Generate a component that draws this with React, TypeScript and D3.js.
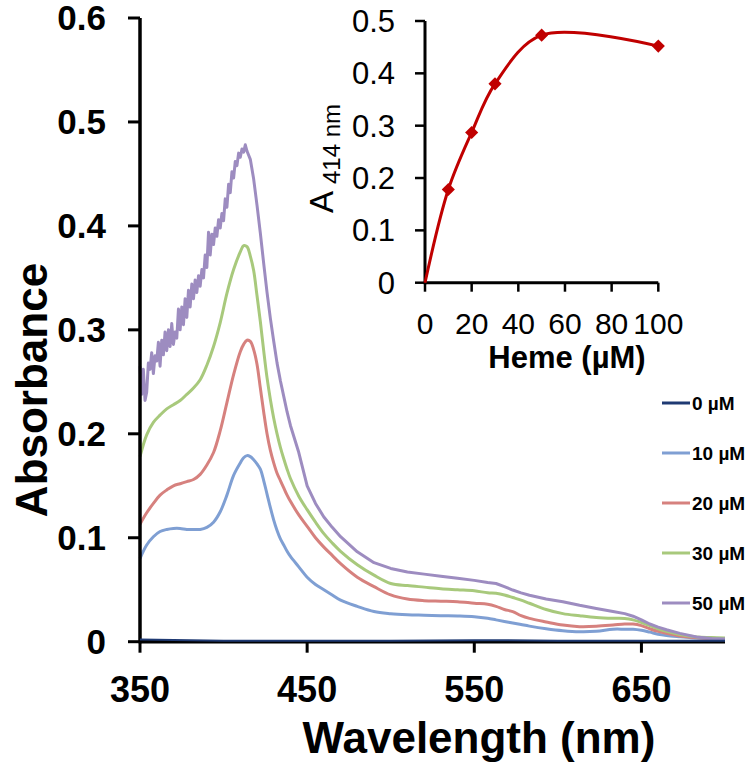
import React from "react";
import * as d3 from "d3";

// ---------- data ----------
const seriesLabels = ["0 µM", "10 µM", "20 µM", "30 µM", "50 µM"];
const seriesColors = ["#1f3a73", "#7f9fd3", "#d6817e", "#a8c97c", "#9d8cc0"];

const wl0 = [350, 400, 450, 500, 550, 600, 650, 700];
const abs0 = [0.002, 0.001, 0.001, 0.001, 0.0015, 0.001, 0.001, 0.001];

const wlGrid = [350, 354, 358, 362, 366, 370, 374, 378, 382, 386, 390, 394, 398, 402, 406, 410, 412, 414, 416, 418, 420, 422, 424, 426, 428, 430, 432, 434, 436, 438, 440, 445, 450, 455, 460, 465, 470, 480, 490, 500, 510, 520, 530, 540, 550, 558, 563, 568, 573, 578, 583, 593, 603, 613, 623, 633, 640, 645, 650, 655, 660, 665, 673, 683, 692, 700];

const abs10 = [0.080, 0.093, 0.101, 0.106, 0.108, 0.109, 0.109, 0.108, 0.108, 0.108, 0.110, 0.115, 0.125, 0.141, 0.160, 0.172, 0.177, 0.179, 0.178, 0.175, 0.171, 0.166, 0.155, 0.142, 0.129, 0.117, 0.107, 0.099, 0.093, 0.087, 0.082, 0.072, 0.062, 0.055, 0.050, 0.045, 0.040, 0.034, 0.029, 0.027, 0.026, 0.0255, 0.025, 0.0247, 0.024, 0.0225, 0.021, 0.0195, 0.018, 0.0165, 0.015, 0.0125, 0.0106, 0.0096, 0.010, 0.012, 0.012, 0.012, 0.011, 0.0092, 0.0072, 0.006, 0.0048, 0.0035, 0.003, 0.0025];

const abs20 = [0.113, 0.124, 0.133, 0.141, 0.146, 0.150, 0.152, 0.154, 0.156, 0.161, 0.170, 0.182, 0.203, 0.230, 0.257, 0.279, 0.286, 0.290, 0.289, 0.281, 0.267, 0.244, 0.221, 0.200, 0.184, 0.172, 0.162, 0.155, 0.148, 0.141, 0.135, 0.122, 0.111, 0.100, 0.091, 0.083, 0.075, 0.062, 0.053, 0.045, 0.041, 0.0395, 0.039, 0.0385, 0.037, 0.036, 0.034, 0.031, 0.029, 0.025, 0.0224, 0.019, 0.016, 0.0145, 0.0148, 0.016, 0.017, 0.017, 0.0155, 0.0125, 0.010, 0.008, 0.0055, 0.0037, 0.0033, 0.003];

const abs30 = [0.178, 0.199, 0.211, 0.218, 0.224, 0.228, 0.232, 0.238, 0.244, 0.252, 0.266, 0.284, 0.307, 0.335, 0.358, 0.375, 0.381, 0.380, 0.371, 0.357, 0.333, 0.308, 0.280, 0.254, 0.233, 0.215, 0.200, 0.187, 0.176, 0.166, 0.157, 0.140, 0.127, 0.115, 0.104, 0.095, 0.087, 0.074, 0.064, 0.056, 0.054, 0.0525, 0.051, 0.050, 0.049, 0.047, 0.0465, 0.045, 0.0425, 0.040, 0.037, 0.031, 0.027, 0.025, 0.0233, 0.0225, 0.0223, 0.021, 0.0185, 0.0155, 0.0125, 0.010, 0.007, 0.0046, 0.004, 0.0035];

const wl50 = [350, 351, 352, 353, 354, 355, 356, 357, 358, 359, 360, 361, 362, 363, 364, 365, 366, 367, 368, 369, 370, 371, 372, 373, 374, 375, 376, 377, 378, 379, 380, 381, 382, 383, 384, 385, 386, 387, 388, 389, 390, 391, 392, 393, 394, 395, 396, 397, 398, 399, 400, 401, 402, 403, 404, 405, 406, 407, 408, 409, 410, 411, 412, 413, 414, 416, 418, 420, 422, 424, 426, 428, 430, 432, 434, 436, 438, 440, 445, 450, 455, 460, 465, 470, 480, 490, 500, 510, 520, 530, 540, 550, 558, 563, 568, 573, 578, 583, 593, 603, 613, 623, 633, 640, 645, 650, 655, 660, 665, 673, 683, 692, 700];
const abs50 = [0.265, 0.238, 0.262, 0.232, 0.240, 0.268, 0.262, 0.278, 0.258, 0.275, 0.270, 0.288, 0.265, 0.290, 0.276, 0.298, 0.280, 0.300, 0.284, 0.306, 0.286, 0.298, 0.292, 0.320, 0.300, 0.322, 0.305, 0.330, 0.312, 0.338, 0.322, 0.344, 0.330, 0.348, 0.336, 0.352, 0.342, 0.358, 0.350, 0.372, 0.360, 0.394, 0.372, 0.392, 0.382, 0.398, 0.390, 0.406, 0.398, 0.412, 0.405, 0.426, 0.418, 0.440, 0.432, 0.452, 0.446, 0.462, 0.458, 0.470, 0.466, 0.474, 0.471, 0.478, 0.472, 0.464, 0.445, 0.420, 0.393, 0.364, 0.336, 0.311, 0.289, 0.268, 0.251, 0.236, 0.221, 0.208, 0.182, 0.150, 0.133, 0.120, 0.110, 0.101, 0.0865, 0.076, 0.0705, 0.067, 0.065, 0.063, 0.061, 0.059, 0.057, 0.056, 0.053, 0.0497, 0.047, 0.0447, 0.041, 0.0385, 0.035, 0.032, 0.029, 0.027, 0.0245, 0.021, 0.017, 0.014, 0.0115, 0.008, 0.0046, 0.003, 0.0025];

const xTicks = [350, 450, 550, 650];
const yTicks = [0, 0.1, 0.2, 0.3, 0.4, 0.5, 0.6];

// inset
const hemeConc = [0, 10, 20, 30, 50, 100];
const a414 = [0, 0.178, 0.287, 0.380, 0.473, 0.452];
const insetXTicks = [0, 20, 40, 60, 80, 100];
const insetYTicks = [0, 0.1, 0.2, 0.3, 0.4, 0.5];

const FONT = "'Liberation Sans', Arial, Helvetica, sans-serif";

export default function App() {
  const W = 750;
  const H = 780;
  const x = d3.scaleLinear().domain([350, 700]).range([140, 725]);
  const y = d3.scaleLinear().domain([0, 0.6]).range([641.7, 18]);

  const ix = d3.scaleLinear().domain([0, 100]).range([425, 658.3]);
  const iy = d3.scaleLinear().domain([0, 0.5]).range([282.7, 21]);

  const smooth = d3
    .line<[number, number]>()
    .x((d) => x(d[0]))
    .y((d) => y(d[1]))
    .curve(d3.curveCatmullRom.alpha(0.5));
  const raw = d3
    .line<[number, number]>()
    .x((d) => x(d[0]))
    .y((d) => y(d[1]));

  const zip = (a: number[], b: number[]) => a.map((v, i) => [v, b[i]] as [number, number]);
  const series = [
    { pts: zip(wl0, abs0), gen: raw },
    { pts: zip(wlGrid, abs10), gen: smooth },
    { pts: zip(wlGrid, abs20), gen: smooth },
    { pts: zip(wlGrid, abs30), gen: smooth },
    { pts: zip(wl50, abs50), gen: raw },
  ];

  const insetLine = d3
    .line<[number, number]>()
    .x((d) => ix(d[0]))
    .y((d) => iy(d[1]))
    .curve(d3.curveCatmullRom.alpha(0.5));
  const insetPts = zip(hemeConc, a414);

  const legendY0 = 403;
  const legendStep = 50;

  return (
    <svg
      width={W}
      height={H}
      viewBox={`0 0 ${W} ${H}`}
      style={{ position: "absolute", left: 0, top: 0, background: "#fff" }}
      fontFamily={FONT}
    >
      <rect width={W} height={H} fill="#fff" />

      {/* spectra 10..50 */}
      {series.slice(1).map((s, i) => (
        <path
          key={i}
          d={s.gen(s.pts) || ""}
          fill="none"
          stroke={seriesColors[i + 1]}
          strokeWidth={3}
          strokeLinejoin="round"
        />
      ))}

      {/* main axes */}
      <line x1={x(350)} x2={x(700)} y1={y(0)} y2={y(0)} stroke="#000" strokeWidth={3.5} />
      <line x1={x(350)} x2={x(350)} y1={y(0) + 1.5} y2={y(0.6)} stroke="#000" strokeWidth={3.5} />
      {yTicks.map((t) => (
        <g key={t}>
          <line x1={x(350) - 12} x2={x(350)} y1={y(t)} y2={y(t)} stroke="#000" strokeWidth={3} />
          <text
            x={106}
            y={y(t) + 12}
            textAnchor="end"
            fontSize={35}
            fontWeight="bold"
            fill="#000"
          >
            {t === 0 ? "0" : t.toFixed(1)}
          </text>
        </g>
      ))}
      {xTicks.map((t) => (
        <g key={t}>
          <line x1={x(t)} x2={x(t)} y1={y(0)} y2={y(0) + 11} stroke="#000" strokeWidth={3} />
          <text x={x(t)} y={702} textAnchor="middle" fontSize={36} fontWeight="bold" fill="#000">
            {t}
          </text>
        </g>
      ))}

      {/* 0 uM trace over axis */}
      <path d={raw(series[0].pts) || ""} fill="none" stroke={seriesColors[0]} strokeWidth={2} />

      {/* axis titles */}
      <text
        transform={`translate(47,390) rotate(-90)`}
        textAnchor="middle"
        fontSize={44}
        fontWeight="bold"
        fill="#000"
      >
        Absorbance
      </text>
      <text x={479} y={753} textAnchor="middle" fontSize={44} fontWeight="bold" fill="#000">
        Wavelength (nm)
      </text>

      {/* legend */}
      {seriesLabels.map((lab, i) => (
        <g key={lab}>
          <line
            x1={662}
            x2={690}
            y1={legendY0 + i * legendStep}
            y2={legendY0 + i * legendStep}
            stroke={seriesColors[i]}
            strokeWidth={3}
          />
          <text
            x={692}
            y={legendY0 + i * legendStep + 7}
            fontSize={19}
            fontWeight="bold"
            fill="#000"
          >
            {lab}
          </text>
        </g>
      ))}

      {/* inset */}
      <line x1={ix(0)} x2={ix(100)} y1={iy(0)} y2={iy(0)} stroke="#000" strokeWidth={3} />
      <line x1={ix(0)} x2={ix(0)} y1={iy(0) + 1.5} y2={iy(0.5)} stroke="#000" strokeWidth={3} />
      {insetYTicks.map((t) => (
        <g key={t}>
          <line x1={ix(0) - 10} x2={ix(0)} y1={iy(t)} y2={iy(t)} stroke="#000" strokeWidth={2.5} />
          <text
            x={395}
            y={iy(t) + 11}
            textAnchor="end"
            fontSize={31}
            fill="#000"
          >
            {t === 0 ? "0" : t.toFixed(1)}
          </text>
        </g>
      ))}
      {insetXTicks.map((t) => (
        <g key={t}>
          <line x1={ix(t)} x2={ix(t)} y1={iy(0)} y2={iy(0) + 9} stroke="#000" strokeWidth={2.5} />
          <text x={ix(t)} y={334} textAnchor="middle" fontSize={30} fill="#000">
            {t}
          </text>
        </g>
      ))}
      <path
        d={insetLine(insetPts) || ""}
        fill="none"
        stroke="#c00000"
        strokeWidth={3}
      />
      {insetPts.slice(1).map((p, i) => (
        <path
          key={i}
          d={d3.symbol().type(d3.symbolDiamond2).size(110)() || ""}
          transform={`translate(${ix(p[0])},${iy(p[1])})`}
          fill="#c00000"
        />
      ))}
      <text transform={`translate(333,213) rotate(-90)`} fontSize={33} fill="#000">
        <tspan>A</tspan>
        <tspan dx={7} dy={7} fontSize={24}>
          414 nm
        </tspan>
      </text>
      <text x={567} y={368} textAnchor="middle" fontSize={31} fontWeight="bold" fill="#000">
        Heme (µM)
      </text>
    </svg>
  );
}
